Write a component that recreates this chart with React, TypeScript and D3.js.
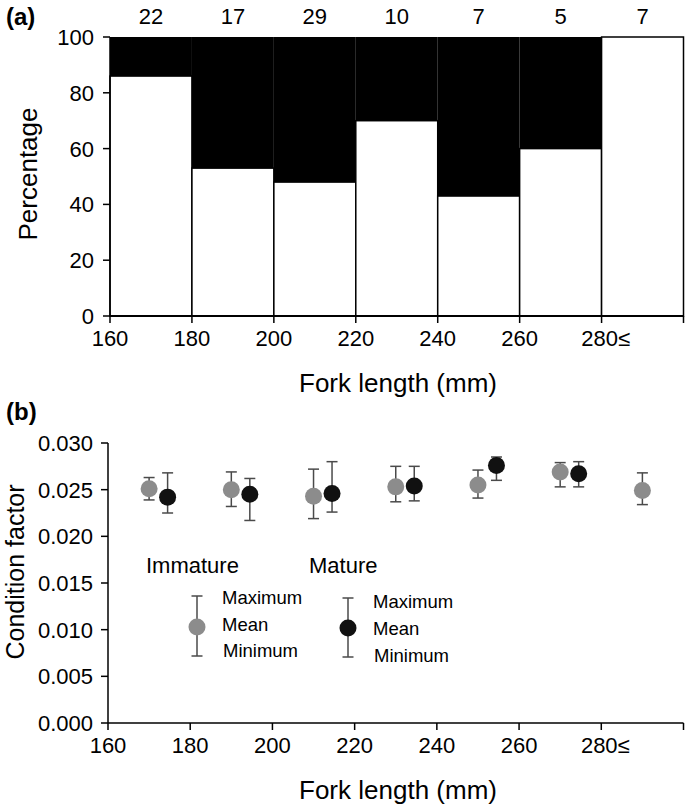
import React from "react";
import * as d3 from "d3";

// ---------- Data ----------
const binStarts = [160, 180, 200, 220, 240, 260, 280];
const binEnd = 300;
const sampleCounts = [22, 17, 29, 10, 7, 5, 7];
const immaturePct = [86, 53, 48, 70, 43, 60, 100];
const xTickValues = [160, 180, 200, 220, 240, 260, 280];
const xTickLabels = ["160", "180", "200", "220", "240", "260", "280\u2264"];
const pctTicks = [0, 20, 40, 60, 80, 100];
const cfTicks = [0, 0.005, 0.01, 0.015, 0.02, 0.025, 0.03];

const immatureX = [170, 190, 210, 230, 250, 270, 290];
const immatureMean = [0.0251, 0.025, 0.0243, 0.0253, 0.0255, 0.0269, 0.0249];
const immatureMax = [0.0263, 0.0269, 0.0272, 0.0275, 0.0271, 0.0279, 0.0268];
const immatureMin = [0.0239, 0.0232, 0.0219, 0.0237, 0.0241, 0.0253, 0.0234];

const matureX = [174.5, 194.5, 214.5, 234.5, 254.5, 274.5];
const matureMean = [0.0242, 0.0245, 0.0246, 0.0254, 0.0276, 0.0267];
const matureMax = [0.0268, 0.0262, 0.028, 0.0275, 0.0285, 0.028];
const matureMin = [0.0225, 0.0217, 0.0226, 0.0238, 0.026, 0.0253];

// ---------- Styles ----------
const FONT = "'Liberation Sans', Arial, Helvetica, sans-serif";
const GRAY = "#8c8c8c";
const BLACK = "#111111";
const WHISKER = "#4a4a4a";

export default function App() {
  const W = 685;
  const H = 806;
  const x = d3.scaleLinear().domain([160, 300]).range([110, 683.5]);
  const yA = d3.scaleLinear().domain([0, 100]).range([316, 37]);
  const yB = d3.scaleLinear().domain([0, 0.03]).range([723, 443]);
  const xB = d3.scaleLinear().domain([160, 300]).range([108, 683.5]);

  const errBar = (
    cx: number,
    yTop: number,
    yBot: number,
    cy: number,
    fill: string,
    key: string
  ) => (
    <g key={key}>
      <line x1={cx} x2={cx} y1={yTop} y2={yBot} stroke={WHISKER} strokeWidth={1.5} />
      <line x1={cx - 5.5} x2={cx + 5.5} y1={yTop} y2={yTop} stroke={WHISKER} strokeWidth={1.5} />
      <line x1={cx - 5.5} x2={cx + 5.5} y1={yBot} y2={yBot} stroke={WHISKER} strokeWidth={1.5} />
      <circle cx={cx} cy={cy} r={8.5} fill={fill} />
    </g>
  );

  return (
    <svg
      width={W}
      height={H}
      viewBox={`0 0 ${W} ${H}`}
      style={{ position: "absolute", left: 0, top: 0, background: "#fff" }}
      fontFamily={FONT}
    >
      <rect x={0} y={0} width={W} height={H} fill="#fff" />

      {/* ---------- Panel (a) ---------- */}
      <text x={6} y={25} fontSize={24} fontWeight="bold" fill="#000">(a)</text>

      {binStarts.map((b, i) => {
        const end = i < binStarts.length - 1 ? binStarts[i + 1] : binEnd;
        const x0 = x(b);
        const x1 = x(end);
        return (
          <g key={"bar" + i}>
            <rect x={x0} y={yA(100)} width={x1 - x0} height={yA(0) - yA(100)} fill="#000" />
            <rect
              x={x0}
              y={yA(immaturePct[i])}
              width={x1 - x0}
              height={yA(0) - yA(immaturePct[i])}
              fill="#fff"
              stroke="#000"
              strokeWidth={1.5}
            />
            <text
              x={(x0 + x1) / 2}
              y={24}
              fontSize={22}
              textAnchor="middle"
              fill="#000"
            >
              {sampleCounts[i]}
            </text>
          </g>
        );
      })}

      {/* y axis a */}
      <line x1={110} x2={110} y1={yA(100)} y2={yA(0)} stroke="#000" strokeWidth={1.5} />
      {pctTicks.map((t) => (
        <g key={"pt" + t}>
          <line x1={103} x2={110} y1={yA(t)} y2={yA(t)} stroke="#000" strokeWidth={1.5} />
          <text x={94} y={yA(t) + 8} fontSize={22} textAnchor="end" fill="#000">
            {t}
          </text>
        </g>
      ))}
      {/* x axis a */}
      <line x1={110} x2={x(300)} y1={yA(0)} y2={yA(0)} stroke="#000" strokeWidth={2} />
      {[...xTickValues, 300].map((t) => (
        <line key={"xa" + t} x1={x(t)} x2={x(t)} y1={yA(0)} y2={yA(0) + 7} stroke="#000" strokeWidth={1.5} />
      ))}
      {xTickValues.map((t, i) => (
        <text
          key={"xal" + t}
          x={i === xTickLabels.length - 1 ? x(t) + 4 : x(t)}
          y={346}
          fontSize={22}
          textAnchor="middle"
          fill="#000"
        >
          {xTickLabels[i]}
        </text>
      ))}
      <text x={398} y={392} fontSize={26} textAnchor="middle" fill="#000">
        Fork length (mm)
      </text>
      <text
        transform={`translate(37,174) rotate(-90)`}
        fontSize={26}
        textAnchor="middle"
        fill="#000"
      >
        Percentage
      </text>

      {/* ---------- Panel (b) ---------- */}
      <text x={6} y={420} fontSize={24} fontWeight="bold" fill="#000">(b)</text>

      <line x1={108} x2={108} y1={yB(0.03)} y2={yB(0)} stroke="#000" strokeWidth={1.5} />
      {cfTicks.map((t) => (
        <g key={"ct" + t}>
          <line x1={101} x2={108} y1={yB(t)} y2={yB(t)} stroke="#000" strokeWidth={1.5} />
          <text x={93} y={yB(t) + 8} fontSize={22} textAnchor="end" fill="#000">
            {d3.format(".3f")(t)}
          </text>
        </g>
      ))}
      <line x1={108} x2={xB(300)} y1={yB(0)} y2={yB(0)} stroke="#000" strokeWidth={1.5} />
      {[...xTickValues, 300].map((t) => (
        <line key={"xb" + t} x1={xB(t)} x2={xB(t)} y1={yB(0)} y2={yB(0) + 7} stroke="#000" strokeWidth={1.5} />
      ))}
      {xTickValues.map((t, i) => (
        <text
          key={"xbl" + t}
          x={i === xTickLabels.length - 1 ? xB(t) + 4 : xB(t)}
          y={753}
          fontSize={22}
          textAnchor="middle"
          fill="#000"
        >
          {xTickLabels[i]}
        </text>
      ))}
      <text x={398} y={799} fontSize={26} textAnchor="middle" fill="#000">
        Fork length (mm)
      </text>
      <text
        transform={`translate(24,572) rotate(-90)`}
        fontSize={25}
        textAnchor="middle"
        fill="#000"
      >
        Condition factor
      </text>

      {immatureX.map((v, i) =>
        errBar(xB(v), yB(immatureMax[i]), yB(immatureMin[i]), yB(immatureMean[i]), GRAY, "im" + i)
      )}
      {matureX.map((v, i) =>
        errBar(xB(v), yB(matureMax[i]), yB(matureMin[i]), yB(matureMean[i]), BLACK, "ma" + i)
      )}

      {/* Legend */}
      <text x={146} y={573} fontSize={22} fill="#000">Immature</text>
      <text x={309} y={573} fontSize={22} fill="#000">Mature</text>
      {errBar(197, 596, 656, 627, GRAY, "legIm")}
      <text x={222} y={604} fontSize={18.5} fill="#000">Maximum</text>
      <text x={222} y={631} fontSize={18.5} fill="#000">Mean</text>
      <text x={223} y={657} fontSize={18.5} fill="#000">Minimum</text>
      {errBar(348, 598, 657, 628, BLACK, "legMa")}
      <text x={373} y={608} fontSize={18.5} fill="#000">Maximum</text>
      <text x={373} y={635} fontSize={18.5} fill="#000">Mean</text>
      <text x={374} y={662} fontSize={18.5} fill="#000">Minimum</text>
    </svg>
  );
}
